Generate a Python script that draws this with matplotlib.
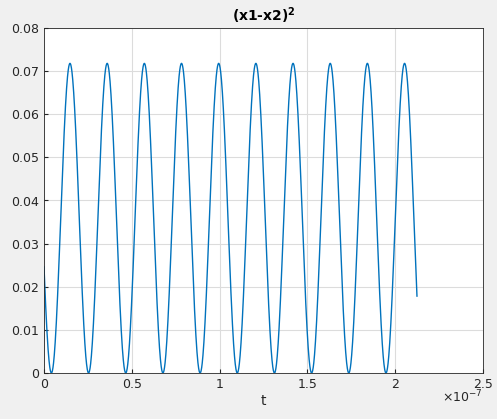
import numpy as np
import matplotlib
matplotlib.use("Agg")
import matplotlib.pyplot as plt

# values
peak_value = 0.0718
first_peak_t = 0.148e-7
period = 0.2117e-7
t_end = 2.124e-7
n_samples = 2000
xticks = [0, 0.5e-7, 1e-7, 1.5e-7, 2e-7, 2.5e-7]
xtick_labels = ["0", "0.5", "1", "1.5", "2", "2.5"]
yticks = [0, 0.01, 0.02, 0.03, 0.04, 0.05, 0.06, 0.07, 0.08]

t = np.linspace(0, t_end, n_samples)
y = peak_value * np.cos(np.pi * (t - first_peak_t) / period) ** 2

fig = plt.figure(figsize=(4.97, 4.19), dpi=100, facecolor="#f0f0f0")
ax = fig.add_axes([44/497, 1-373/419, (483-44)/497, (373-28)/419])
ax.plot(t, y, color="#0072BD", lw=1.0)
ax.set_xlim(0, 2.5e-7)
ax.set_ylim(0, 0.08)
ax.set_xticks(xticks)
ax.set_xticklabels(xtick_labels)
ax.set_yticks(yticks)
ax.set_yticklabels(["0"] + [f"{v:.2f}" for v in yticks[1:]])
ax.grid(True, color="#dcdcdc", lw=0.8)
ax.set_axisbelow(True)
for s in ax.spines.values():
    s.set_color("#262626"); s.set_linewidth(0.6)
ax.tick_params(labelsize=9, colors="#262626", direction="in", length=3)
ax.set_xlabel("t", fontsize=10, color="#262626", labelpad=2)
ax.set_title("(x1-x2)$^{\\mathbf{2}}$", fontsize=10, fontweight="bold", color="black", pad=5)
ax.text(1.0, -0.045, "$\\times10^{-7}$", transform=ax.transAxes, ha="right", va="top",
        fontsize=9, color="#262626")
fig.savefig("out.png", dpi=100, facecolor=fig.get_facecolor())
